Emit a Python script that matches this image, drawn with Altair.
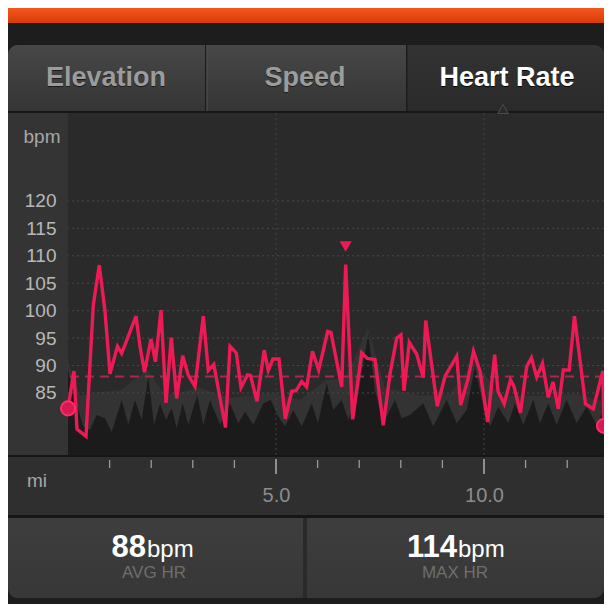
import altair as alt
import pandas as pd

FONT = "Liberation Sans"

# ---- heart-rate series (distance in miles, bpm) ----
hr_miles = [0.000, 0.144, 0.216, 0.433, 0.608, 0.752, 0.889, 1.010, 1.190, 1.291,
            1.635, 1.731, 1.839, 1.995, 2.103, 2.236, 2.356, 2.483, 2.613, 2.757,
            2.892, 3.053, 3.252, 3.373, 3.505, 3.786, 3.894, 4.046, 4.159, 4.315,
            4.387, 4.543, 4.716, 4.815, 4.928, 5.072, 5.224, 5.377, 5.481, 5.618,
            5.738, 5.877, 6.026, 6.243, 6.322, 6.579, 6.675, 6.844, 7.060, 7.195,
            7.380, 7.579, 7.740, 7.901, 8.005, 8.077, 8.204, 8.382, 8.541, 8.599,
            8.877, 9.063, 9.344, 9.440, 9.615, 9.748, 9.904, 10.089, 10.257, 10.337,
            10.486, 10.637, 10.721, 10.877, 11.026, 11.142, 11.267, 11.406, 11.546, 11.659,
            11.786, 11.906, 12.048, 12.175, 12.440, 12.627, 12.856, 12.885]
hr_bpm = [82.2, 89.0, 78.4, 77.1, 101.0, 108.3, 99.9, 88.5, 93.5, 92.2,
          99.0, 93.5, 88.8, 94.8, 90.7, 100.1, 83.2, 95.1, 84.0, 91.8,
          88.2, 86.2, 99.0, 89.1, 90.2, 78.7, 93.5, 92.3, 86.0, 88.3,
          88.2, 83.5, 92.8, 89.1, 91.2, 91.2, 80.3, 85.3, 85.4, 87.1,
          86.1, 92.6, 89.2, 96.2, 96.0, 86.1, 108.4, 80.2, 92.3, 91.3,
          91.1, 79.1, 88.4, 95.0, 95.6, 85.4, 94.2, 92.1, 87.8, 98.2,
          82.6, 88.0, 91.7, 82.8, 87.5, 92.6, 89.0, 79.7, 92.0, 85.3,
          83.0, 87.4, 86.2, 81.4, 89.8, 91.4, 87.9, 90.4, 84.2, 87.0,
          82.1, 89.2, 89.2, 99.0, 83.0, 82.1, 89.0, 79.0]

# ---- background profile (dark shaded area) ----
shade_miles = [0.000, 0.168, 0.368, 0.529, 0.690, 0.889, 1.050, 1.291, 1.450, 1.611,
               1.772, 1.930, 2.067, 2.212, 2.356, 2.493, 2.613, 2.757, 2.892, 3.108,
               3.252, 3.413, 3.654, 3.894, 4.094, 4.255, 4.454, 4.695, 4.873, 5.055,
               5.216, 5.416, 5.618, 5.858, 6.010, 6.219, 6.377, 6.579, 6.738, 6.978,
               7.219, 7.380, 7.579, 7.861, 8.022, 8.221, 8.541, 8.781, 9.103, 9.344,
               9.584, 9.784, 9.983, 10.144, 10.344, 10.584, 10.745, 10.945, 11.185, 11.346,
               11.546, 11.748, 11.988, 12.228, 12.469, 12.709, 12.885]
shade_val = [89.2, 83.7, 78.9, 78.3, 81.0, 80.4, 77.9, 83.7, 79.2, 83.7,
             80.1, 88.0, 79.2, 83.1, 80.1, 82.2, 78.6, 83.1, 79.2, 84.6,
             79.2, 83.7, 79.2, 83.1, 79.5, 81.6, 79.2, 83.1, 83.7, 80.7,
             78.9, 81.9, 78.9, 83.1, 79.5, 86.8, 81.9, 83.7, 80.1, 84.9,
             95.9, 85.5, 79.5, 83.7, 80.4, 81.0, 83.1, 78.9, 83.7, 79.5,
             81.9, 89.8, 82.5, 78.9, 82.5, 79.5, 83.1, 79.2, 83.7, 79.5,
             83.1, 79.2, 83.7, 79.5, 82.5, 79.2, 81.9]

# ---- lighter envelope behind the profile ----
env_miles = [0.000, 0.288, 0.769, 1.250, 1.923, 2.332, 3.173, 3.894, 4.856, 5.577,
             6.202, 6.659, 7.212, 7.620, 8.462, 9.183, 9.784, 10.385, 11.346, 12.188, 12.885]
env_val = [90.7, 84.6, 85.2, 85.5, 89.2, 84.6, 85.9, 84.1, 85.0, 83.7,
           87.4, 87.7, 96.8, 85.9, 84.5, 84.8, 91.0, 84.5, 84.5, 84.8, 83.4]

y_ticks = [85, 90, 95, 100, 105, 110, 115, 120]
x_major = [5, 10]
x_minor = [1, 2, 3, 4, 6, 7, 8, 9, 11, 12]
avg_hr = 88
max_hr = 114
tab_labels = ["Elevation", "Speed", "Heart Rate"]
stat_labels = ["AVG HR", "MAX HR"]
unit = "bpm"
x_unit = "mi"

W, H = 536, 343

hr_df = pd.DataFrame({"mi": hr_miles, "bpm": hr_bpm})
shade_df = pd.DataFrame({"mi": shade_miles, "bpm": shade_val})
env_df = pd.DataFrame({"mi": env_miles, "bpm": env_val})
ends_df = hr_df.iloc[[0, len(hr_df) - 1]]
imax = hr_bpm.index(max(hr_bpm))
max_df = hr_df.iloc[[imax]]
ygrid_df = pd.DataFrame({"bpm": y_ticks})
xmaj_df = pd.DataFrame({"mi": x_major})
xmin_df = pd.DataFrame({"mi": x_minor})
avg_df = pd.DataFrame({"bpm": [avg_hr]})
one = pd.DataFrame({"k": [0]})

xs = alt.Scale(domain=[0, 12.885], nice=False, zero=False)
ys = alt.Scale(domain=[73.7, 136.2], nice=False, zero=False)
x_axis = alt.Axis(values=x_major, format=".1f", ticks=False, domain=False, grid=False,
                  labelPadding=30, labelFontSize=20, labelColor="#8c8c8c", labelFont=FONT,
                  title=None, zindex=1)
y_axis = alt.Axis(values=y_ticks, ticks=False, domain=False, grid=False,
                  labelPadding=12, labelFontSize=19, labelColor="#b8b8b8", labelFont=FONT,
                  title=None, zindex=1)
X = alt.X("mi:Q", scale=xs, axis=x_axis)
Y = alt.Y("bpm:Q", scale=ys, axis=y_axis)


def grad(c1, c2):
    return alt.Gradient(gradient="linear",
                        stops=[alt.GradientStop(color=c1, offset=0),
                               alt.GradientStop(color=c2, offset=1)],
                        x1=0, x2=0, y1=0, y2=1)


def box(x1, x2, y1, y2, color, **kw):
    return alt.Chart(one).mark_rect(color=color, **kw).encode(
        x=alt.value(x1), x2=alt.value(x2), y=alt.value(y1), y2=alt.value(y2))


def label(txt, x, y, size, color, weight="normal", align="center", baseline="middle"):
    return alt.Chart(one).mark_text(text=txt, font=FONT, fontSize=size, fontWeight=weight,
                                    color=color, align=align, baseline=baseline).encode(
        x=alt.value(x), y=alt.value(y))


deco = [
    box(-60, W, -104, -89, grad("#f4571c", "#d63c08")),
    box(-60, W, -67, H + 143, "#2a2a2a", cornerRadius=10),
    box(-60, 339, -67, 0, grad("#474747", "#353535"), cornerRadiusTopLeft=10),
    box(339, W, -67, 0, grad("#333333", "#2a2a2a"), cornerRadiusTopRight=10),
    box(137, 138.5, -67, 0, "#1c1c1c"),
    box(138.5, 139.5, -67, 0, "#505050"),
    box(338, 339.5, -67, 0, "#1c1c1c"),
    box(-60, W, -1, 1, "#171717"),
    box(-60, 0, 1, H, "#343434"),
    box(0, W, 1, H, "#2a2a2a"),
    box(-60, W, H, H + 60, "#2f2f2f"),
    box(-60, W, H, H + 2, "#161616"),
    box(-60, W, H + 60, H + 63, "#161616"),
    box(-60, 235, H + 63, H + 143, grad("#3e3e3e", "#373737"), cornerRadiusBottomLeft=10),
    box(239, W, H + 63, H + 143, grad("#3e3e3e", "#373737"), cornerRadiusBottomRight=10),
]

env = alt.Chart(env_df).mark_area(color="#333333", clip=True).encode(x=X, y=Y)
shade = alt.Chart(shade_df).mark_area(color="#1b1b1b", clip=True).encode(x=X, y=Y)
ygrid = alt.Chart(ygrid_df).mark_rule(color="#4a4a4a", strokeDash=[2, 3], strokeWidth=1).encode(y=Y)
xgrid = alt.Chart(xmaj_df).mark_rule(color="#454545", strokeDash=[2, 3], strokeWidth=1).encode(
    x=X, y=alt.value(1), y2=alt.value(H))
avg_rule = alt.Chart(avg_df).mark_rule(color="#a8284f", strokeDash=[9, 6], strokeWidth=2).encode(y=Y)
line = alt.Chart(hr_df).mark_line(color="#ee1a55", strokeWidth=3.4).encode(x=X, y=Y)
dots = alt.Chart(ends_df).mark_point(shape="circle", filled=True, size=200, color="#d81a52",
                                     stroke="#ff2d66", strokeWidth=2, opacity=1).encode(x=X, y=Y)
maxm = alt.Chart(max_df).mark_point(shape="triangle-down", filled=True, size=150,
                                    color="#ee1a55", opacity=1, yOffset=-18).encode(x=X, y=Y)
minor = alt.Chart(xmin_df).mark_rule(color="#9a9a9a", strokeWidth=1.3).encode(
    x=X, y=alt.value(H + 5), y2=alt.value(H + 13))
major = alt.Chart(xmaj_df).mark_rule(color="#a8a8a8", strokeWidth=1.6).encode(
    x=X, y=alt.value(H + 4), y2=alt.value(H + 19))
notch = alt.Chart(one).mark_point(shape="triangle-up", filled=True, size=110, color="#2a2a2a",
                                  stroke="#4e4e4e", strokeWidth=1, opacity=1).encode(
    x=alt.value(435), y=alt.value(-3))

texts = [
    label(tab_labels[0], 38, -33, 27, "#1a1a1a", "bold"),
    label(tab_labels[0], 38, -34, 27, "#9c9c9c", "bold"),
    label(tab_labels[1], 237, -33, 27, "#1a1a1a", "bold"),
    label(tab_labels[1], 237, -34, 27, "#9c9c9c", "bold"),
    label(tab_labels[2], 439, -33, 27, "#000000", "bold"),
    label(tab_labels[2], 439, -34, 27, "#ffffff", "bold"),
    label(unit, -26, 25, 19, "#a8a8a8"),
    label(x_unit, -31, 369, 19, "#a8a8a8"),
    label(str(avg_hr), 78, 445, 31, "#ffffff", "bold", align="right", baseline="alphabetic"),
    label(unit, 79, 445, 24, "#ffffff", align="left", baseline="alphabetic"),
    label(stat_labels[0], 86, 461, 17, "#6e6e6e"),
    label(str(max_hr), 389, 445, 31, "#ffffff", "bold", align="right", baseline="alphabetic"),
    label(unit, 390, 445, 24, "#ffffff", align="left", baseline="alphabetic"),
    label(stat_labels[1], 387, 461, 17, "#6e6e6e"),
]

chart = alt.layer(
    *deco, env, shade, ygrid, xgrid, avg_rule, line, dots, maxm, minor, major, notch, *texts
).properties(
    width=W, height=H,
    padding={"left": 60, "top": 104, "right": 0, "bottom": 149},
    autosize=alt.AutoSizeParams(type="none"),
    background="#1d1d1d",
).configure_view(strokeWidth=0)

chart.save("out.html", embed_options={"renderer": "svg", "actions": False})
